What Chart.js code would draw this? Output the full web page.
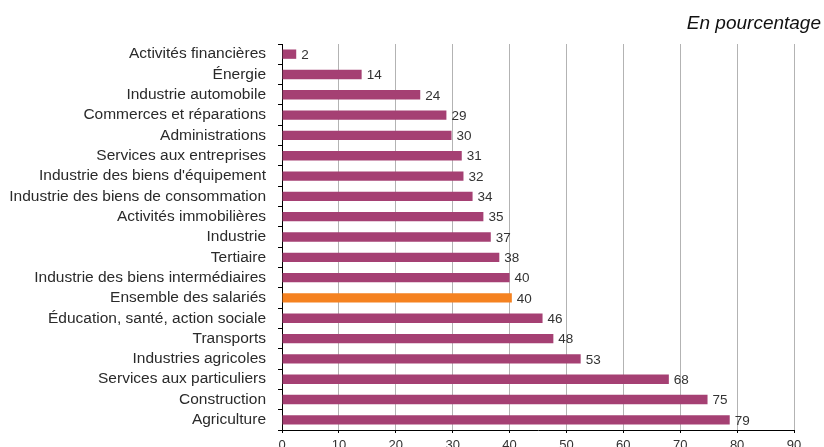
<!DOCTYPE html>
<html>
<head>
<meta charset="utf-8">
<script src="https://cdn.jsdelivr.net/npm/chart.js@4"></script>
<style>
  html, body { margin: 0; padding: 0; background: #fff; overflow: hidden; }
  #wrap { width: 824px; height: 460px; position: relative; }
</style>
</head>
<body>
<div id="wrap"><canvas id="graph1"></canvas></div>
<script>
// data
const secteurs = [
    "Activités financières",
    "Énergie",
    "Industrie automobile",
    "Commerces et réparations",
    "Administrations",
    "Services aux entreprises",
    "Industrie des biens d'équipement",
    "Industrie des biens de consommation",
    "Activités immobilières",
    "Industrie",
    "Tertiaire",
    "Industrie des biens intermédiaires",
    "Ensemble des salariés",
    "Éducation, santé, action sociale",
    "Transports",
    "Industries agricoles",
    "Services aux particuliers",
    "Construction",
    "Agriculture"
];
const valeurs = [2.5, 14.0, 24.3, 28.9, 29.8, 31.6, 31.9, 33.5, 35.4, 36.7, 38.2, 40.0, 40.4, 45.8, 47.7, 52.5, 68.0, 74.8, 78.7];
const etiquettes = ["2", "14", "24", "29", "30", "31", "32", "34", "35", "37", "38", "40", "40", "46", "48", "53", "68", "75", "79"];
const axeMin = 0;
const axeMax = 90;
const axePas = 10;
const titre = "En pourcentage";
const enEvidence = "Ensemble des salariés";

const violet = "rgb(165, 64, 115)";
const orange = "rgb(245, 130, 32)";
const police = "'Liberation Sans', Arial, Helvetica, sans-serif";

let couleurs = secteurs.map(s => s == enEvidence ? orange : violet);

// values next to the bars + title at top right
const etiquettesPlugin = {
    id: "etiquettes",
    afterDatasetsDraw(chart) {
        let ctx = chart.ctx;
        let meta = chart.getDatasetMeta(0);
        ctx.save();
        ctx.font = "13.5px " + police;
        ctx.fillStyle = "#333";
        ctx.textAlign = "left";
        ctx.textBaseline = "middle";
        meta.data.forEach((bar, i) => {
            ctx.fillText(etiquettes[i], bar.x + 5, bar.y + 1);
        });
        ctx.font = "italic 19px " + police;
        ctx.fillStyle = "#111";
        ctx.textAlign = "right";
        ctx.textBaseline = "alphabetic";
        ctx.fillText(titre, chart.width - 3, 29);
        ctx.restore();
    }
};

let graph1 = document.getElementById("graph1").getContext("2d");
const myChart = new Chart(graph1, {
    type: "bar",
    data: {
        labels: secteurs,
        datasets: [{
            data: valeurs,
            backgroundColor: couleurs,
            borderWidth: 0,
            barPercentage: 0.46,
            categoryPercentage: 1
        }]
    },
    options: {
        indexAxis: "y",
        responsive: true,
        maintainAspectRatio: false,
        animation: false,
        layout: { padding: { top: 44, right: 30, left: 0, bottom: 0 } },
        plugins: {
            legend: { display: false },
            tooltip: { enabled: false }
        },
        scales: {
            x: {
                min: axeMin,
                max: axeMax,
                ticks: {
                    stepSize: axePas,
                    font: { size: 13, family: police },
                    color: "#333",
                    padding: 5
                },
                grid: {
                    color: "#b3b3b3",
                    lineWidth: 1,
                    tickLength: 3,
                    tickColor: "#000"
                },
                border: { color: "#000", width: 1 },
                afterFit(scale) { scale.height = 30; }
            },
            y: {
                ticks: {
                    font: { size: 15.5, family: police },
                    color: "#2a2a2a",
                    padding: 12,
                    autoSkip: false
                },
                grid: {
                    drawOnChartArea: false,
                    tickLength: 4,
                    color: "#000",
                    offset: true
                },
                border: { color: "#000", width: 1 },
                afterFit(scale) { scale.width = 282; }
            }
        }
    },
    plugins: [etiquettesPlugin]
});
</script>
</body>
</html>
